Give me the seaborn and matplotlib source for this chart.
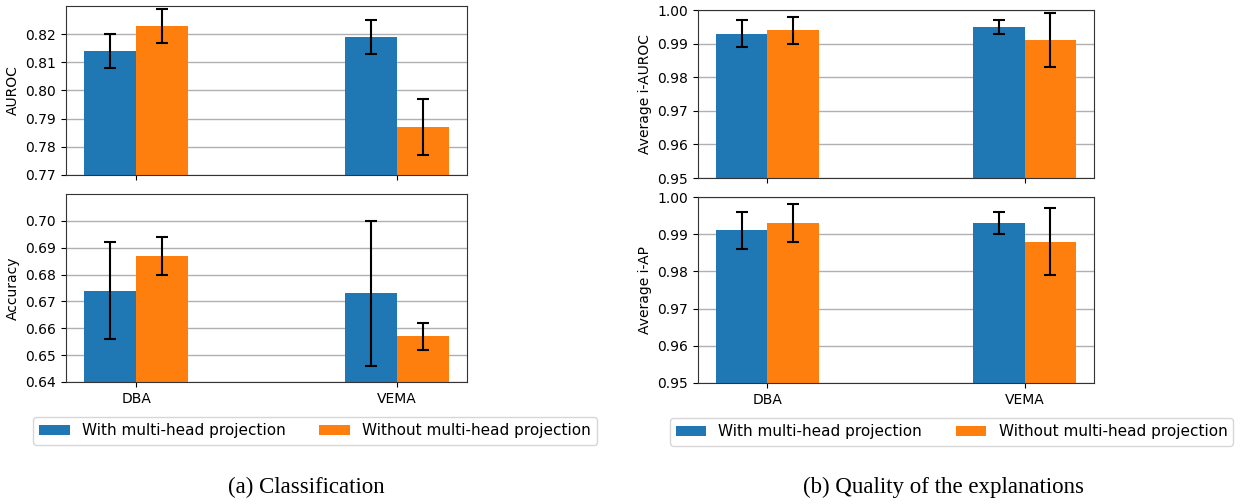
import matplotlib
matplotlib.use("Agg")
import matplotlib.pyplot as plt
import numpy as np
import pandas as pd
import seaborn as sns

datasets = ["DBA", "VEMA"]
methods = ["With multi-head projection", "Without multi-head projection"]

auroc_with = [0.814, 0.819]
auroc_without = [0.823, 0.787]
auroc_err_with = [0.006, 0.006]
auroc_err_without = [0.006, 0.010]

acc_with = [0.674, 0.673]
acc_without = [0.687, 0.657]
acc_err_with = [0.018, 0.027]
acc_err_without = [0.007, 0.005]

iauroc_with = [0.993, 0.995]
iauroc_without = [0.994, 0.991]
iauroc_err_with = [0.004, 0.002]
iauroc_err_without = [0.004, 0.008]

iap_with = [0.991, 0.993]
iap_without = [0.993, 0.988]
iap_err_with = [0.005, 0.003]
iap_err_without = [0.005, 0.009]

colors = ["#1f77b4", "#ff7f0e"]


def to_frame(with_vals, without_vals, with_err, without_err):
    rows = []
    for i, d in enumerate(datasets):
        rows.append((d, methods[0], with_vals[i], with_err[i]))
        rows.append((d, methods[1], without_vals[i], without_err[i]))
    return pd.DataFrame(rows, columns=["dataset", "method", "value", "err"])


def draw(ax, df, ylabel, ylim, yticks, show_xlabels):
    sns.barplot(data=df, x="dataset", y="value", hue="method", order=datasets,
                hue_order=methods, palette=colors, width=0.4, errorbar=None,
                saturation=1, ax=ax)
    for container, m in zip(ax.containers, methods):
        sub = df[df["method"] == m].set_index("dataset").loc[datasets]
        xs = [b.get_x() + b.get_width() / 2 for b in container]
        ax.errorbar(xs, sub["value"], yerr=sub["err"], fmt="none",
                    ecolor="black", elinewidth=1.5, capsize=4, capthick=1.5)
    handles, labels = ax.get_legend_handles_labels()
    ax.get_legend().remove()
    ax.set_xlim(-0.27, 1.27)
    ax.set_ylim(*ylim)
    ax.set_yticks(yticks)
    ax.grid(axis="y", color="#b0b0b0", linewidth=1)
    ax.set_axisbelow(True)
    ax.set_xlabel("")
    ax.set_ylabel(ylabel, fontsize=10)
    ax.tick_params(labelsize=10)
    if not show_xlabels:
        ax.set_xticklabels([])
    for s in ax.spines.values():
        s.set_color("#333333")
    return handles, labels


fig = plt.figure(figsize=(12.47, 5.04), dpi=100)

ax1 = fig.add_axes([0.0529, 0.6528, 0.3216, 0.3353])
ax2 = fig.add_axes([0.0529, 0.2421, 0.3216, 0.3730])
ax3 = fig.add_axes([0.5597, 0.6468, 0.3176, 0.3333])
ax4 = fig.add_axes([0.5597, 0.2401, 0.3176, 0.3690])

draw(ax1, to_frame(auroc_with, auroc_without, auroc_err_with, auroc_err_without),
     "AUROC", (0.77, 0.83), np.round(np.arange(0.77, 0.825, 0.01), 2), False)
h, l = draw(ax2, to_frame(acc_with, acc_without, acc_err_with, acc_err_without),
            "Accuracy", (0.64, 0.71), np.round(np.arange(0.64, 0.705, 0.01), 2), True)
draw(ax3, to_frame(iauroc_with, iauroc_without, iauroc_err_with, iauroc_err_without),
     "Average i-AUROC", (0.95, 1.0), np.round(np.arange(0.95, 1.005, 0.01), 2), False)
draw(ax4, to_frame(iap_with, iap_without, iap_err_with, iap_err_without),
     "Average i-AP", (0.95, 1.0), np.round(np.arange(0.95, 1.005, 0.01), 2), True)

fig.legend(h, l, loc="center", bbox_to_anchor=(0.2526, 0.145), ncol=2,
           fontsize=11, columnspacing=2.2)
fig.legend(h, l, loc="center", bbox_to_anchor=(0.763, 0.143), ncol=2,
           fontsize=11, columnspacing=2.2)

fig.text(0.246, 0.032, "(a) Classification", ha="center", va="center",
         fontsize=16.5, family="Liberation Serif")
fig.text(0.757, 0.032, "(b) Quality of the explanations", ha="center", va="center",
         fontsize=16.5, family="Liberation Serif")

fig.savefig("out.png", dpi=100)
